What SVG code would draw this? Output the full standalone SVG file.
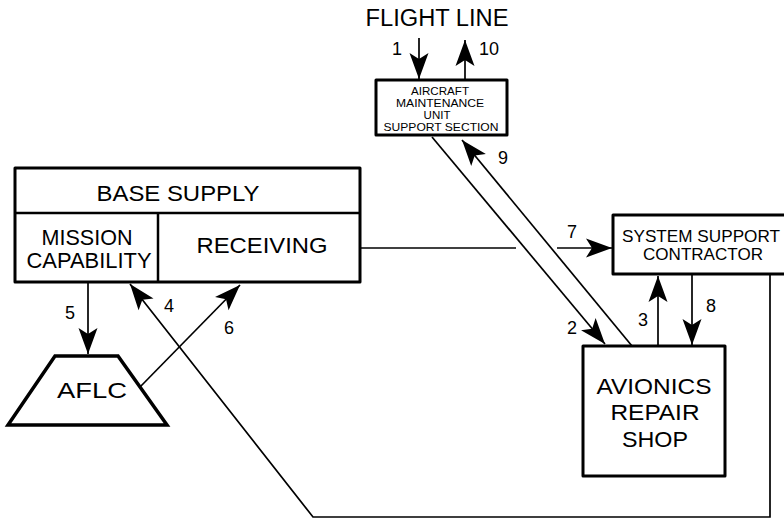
<svg xmlns="http://www.w3.org/2000/svg" width="784" height="519" viewBox="0 0 784 519">
<defs>
<style>
.box{fill:#fff;stroke:#000;stroke-width:3;stroke-linejoin:round}
.ln{fill:none;stroke:#000;stroke-width:1.7}
text{font-family:"Liberation Sans",Arial,sans-serif;fill:#000;text-anchor:middle}
.big{font-size:21.5px}
.mid{font-size:17px}
.sm{font-size:11.5px}
.num{font-size:18px}
</style>
<marker id="ah" markerUnits="userSpaceOnUse" viewBox="-27 -10 28 20" markerWidth="28" markerHeight="20" refX="0" refY="0" orient="auto">
<path d="M0,0 L-26,-9.5 L-20,0 L-26,9.5 Z" fill="#000"/>
</marker>
</defs>
<rect width="784" height="519" fill="#fff"/>

<text x="437" y="26" style="font-size:23px" textLength="143" lengthAdjust="spacingAndGlyphs">FLIGHT LINE</text>

<g id="connectors">
<line class="ln" x1="419" y1="38" x2="419" y2="79" marker-end="url(#ah)"/>
<line class="ln" x1="465" y1="80" x2="465" y2="40" marker-end="url(#ah)"/>
<line class="ln" x1="432" y1="137" x2="605" y2="344" marker-end="url(#ah)"/>
<line class="ln" x1="632" y1="346" x2="462" y2="140" marker-end="url(#ah)"/>
<line class="ln" x1="360" y1="248" x2="516" y2="248"/>
<line class="ln" x1="557" y1="248" x2="612" y2="248" marker-end="url(#ah)"/>
<line class="ln" x1="658" y1="346" x2="658" y2="276" marker-end="url(#ah)"/>
<line class="ln" x1="692" y1="274" x2="692" y2="345" marker-end="url(#ah)"/>
<line class="ln" x1="88" y1="282" x2="88" y2="354" marker-end="url(#ah)"/>
<polyline class="ln" points="770,274 770,517 313,517 130,284" marker-end="url(#ah)"/>
<line class="ln" x1="140" y1="387" x2="240" y2="285" marker-end="url(#ah)"/>
<text class="num" x="397" y="55">1</text>
<text class="num" x="489" y="55">10</text>
<text class="num" x="503" y="164">9</text>
<text class="num" x="572" y="238">7</text>
<text class="num" x="572" y="334">2</text>
<text class="num" x="643" y="326">3</text>
<text class="num" x="711" y="312">8</text>
<text class="num" x="70" y="319">5</text>
<text class="num" x="169" y="312">4</text>
<text class="num" x="229" y="334">6</text>
</g>

<g id="amu">
<rect class="box" x="376" y="80" width="131" height="55"/>
<text class="sm" x="440" y="95" textLength="58" lengthAdjust="spacingAndGlyphs">AIRCRAFT</text>
<text class="sm" x="440" y="107" textLength="88" lengthAdjust="spacingAndGlyphs">MAINTENANCE</text>
<text class="sm" x="437" y="119">UNIT</text>
<text class="sm" x="441" y="131" textLength="115" lengthAdjust="spacingAndGlyphs">SUPPORT SECTION</text>
</g>

<g id="base-supply">
<rect class="box" x="15" y="168" width="345" height="114"/>
<line x1="15" y1="213" x2="360" y2="213" stroke="#000" stroke-width="2.5"/>
<line x1="158" y1="213" x2="158" y2="282" stroke="#000" stroke-width="2.5"/>
<text class="big" x="178" y="201" textLength="163" lengthAdjust="spacingAndGlyphs">BASE SUPPLY</text>
<text class="big" x="87" y="245" textLength="91" lengthAdjust="spacingAndGlyphs">MISSION</text>
<text class="big" x="89" y="268" textLength="125" lengthAdjust="spacingAndGlyphs">CAPABILITY</text>
<text class="big" x="262" y="253" textLength="131" lengthAdjust="spacingAndGlyphs">RECEIVING</text>
</g>

<g id="ssc">
<rect class="box" x="613" y="215" width="180" height="59"/>
<text class="mid" x="701" y="242" textLength="158" lengthAdjust="spacingAndGlyphs">SYSTEM SUPPORT</text>
<text class="mid" x="703" y="260" textLength="120" lengthAdjust="spacingAndGlyphs">CONTRACTOR</text>
</g>

<g id="avionics">
<rect class="box" x="583" y="346" width="142" height="130"/>
<text class="big" x="654" y="394" textLength="115" lengthAdjust="spacingAndGlyphs">AVIONICS</text>
<text class="big" x="655" y="420" textLength="89" lengthAdjust="spacingAndGlyphs">REPAIR</text>
<text class="big" x="655" y="447" textLength="66" lengthAdjust="spacingAndGlyphs">SHOP</text>
</g>

<g id="aflc">
<polygon points="55,356 118,356 167,425 8,425" fill="#fff" stroke="#000" stroke-width="3.5" stroke-linejoin="miter"/>
<text class="big" x="92" y="398" textLength="70" lengthAdjust="spacingAndGlyphs">AFLC</text>
</g>
</svg>
